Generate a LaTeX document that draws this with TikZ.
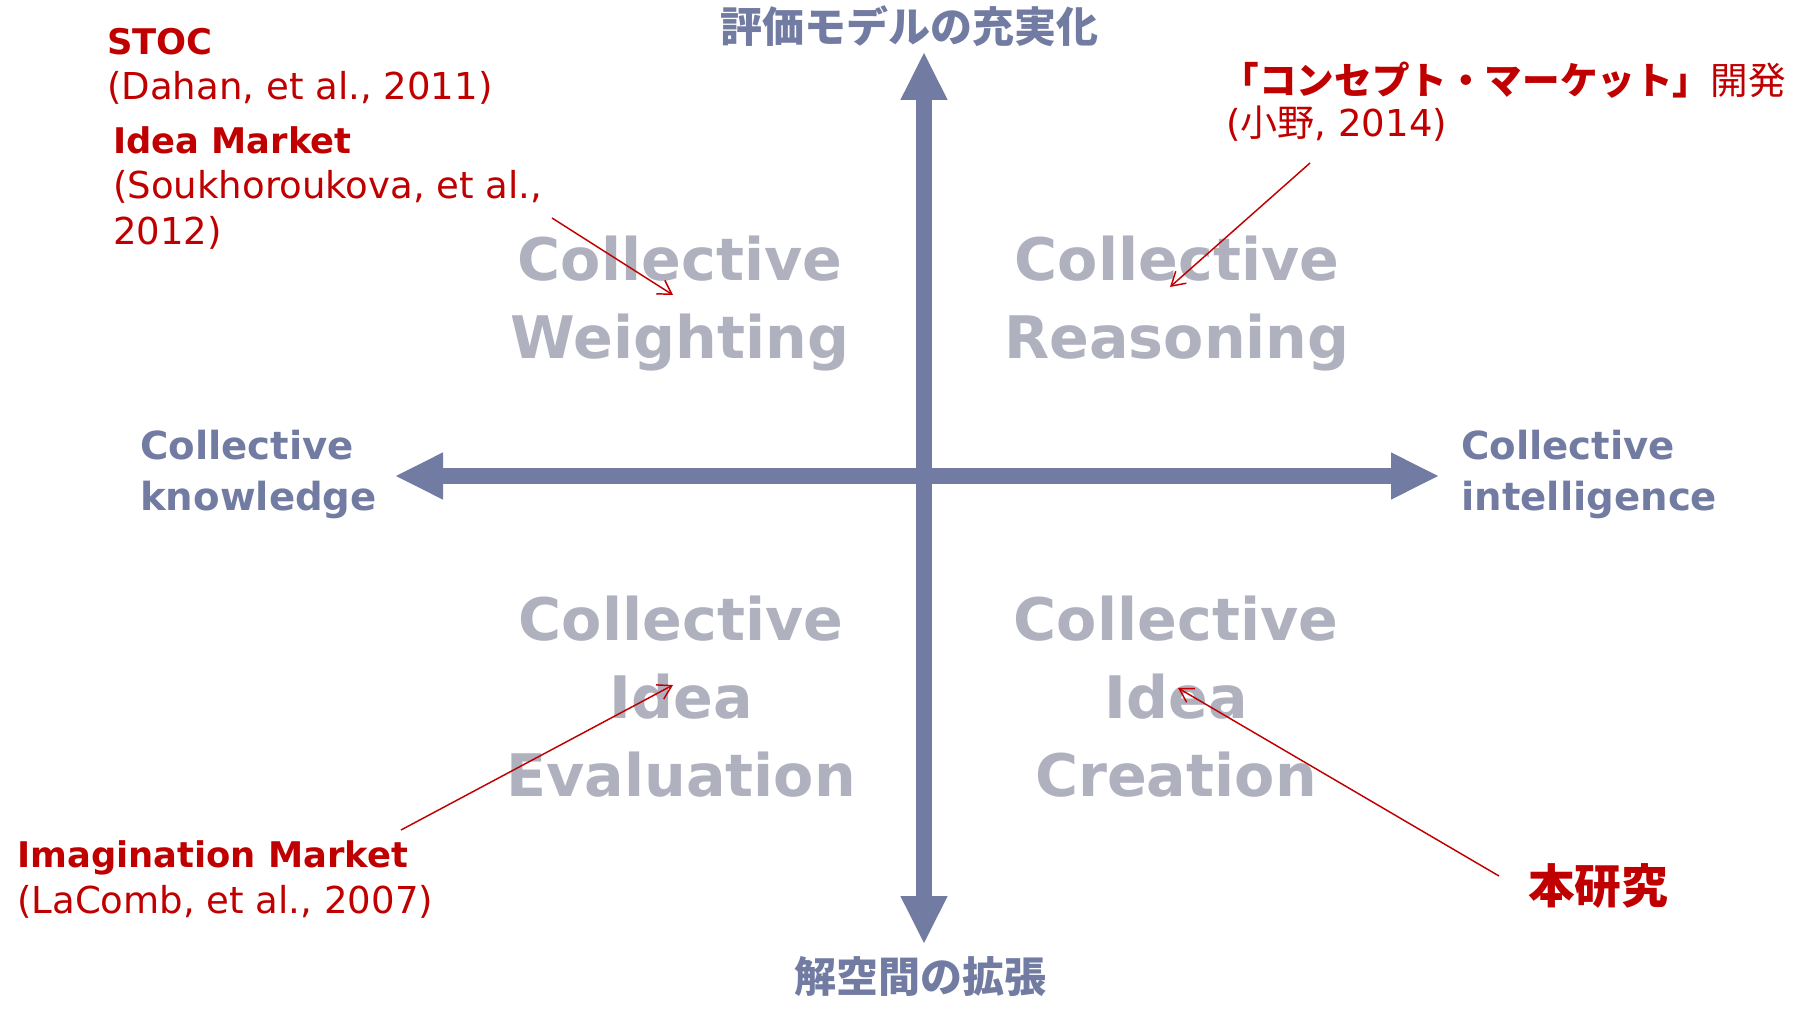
\documentclass[tikz,border=0pt]{standalone}
\usepackage{fontspec}
\setmainfont{DejaVu Sans}
\newfontfamily\jp{Noto Sans CJK JP}
\usetikzlibrary{arrows.meta}
\definecolor{axisblue}{RGB}{114,124,162}
\definecolor{quadgray}{RGB}{176,177,191}
\definecolor{refred}{RGB}{192,0,0}
\newcommand\reftitle[1]{{\bfseries\fontsize{26.5}{34}\selectfont #1}}
\begin{document}
\begin{tikzpicture}[x=0.75pt,y=-0.75pt,
  bigtip/.tip={Triangle[length=35.25pt,width=35.5pt,line width=0pt]},
  axis/.style={axisblue, line width=11.9pt, {bigtip}-{bigtip}},
  quad/.style={quadgray, font=\bfseries\fontsize{44}{58.5}\selectfont, align=center, anchor=base, inner sep=0pt},
  axislabel/.style={axisblue, font=\bfseries\fontsize{29}{37.7}\selectfont, align=left, anchor=base west, inner sep=0pt},
  axistitle/.style={axisblue, font=\jp\bfseries\fontsize{31.5}{36}\selectfont, anchor=base, inner sep=0pt},
  ref/.style={refred, font=\fontsize{27.8}{34}\selectfont, align=left, anchor=base west, inner sep=0pt},
  pointer/.style={refred, line width=1.1pt, -{Straight Barb[length=10pt,width=12pt]}}
]
\useasboundingbox (0,0) rectangle (1797,1009);

% axes
\coordinate (west)  at (396,476);
\coordinate (east)  at (1438,476);
\coordinate (north) at (924,53);
\coordinate (south) at (924,943);
\draw[axis] (west) -- (east);
\draw[axis] (south) -- (north);

% axis titles (multi-line nodes are placed by the baseline of their last line)
\node[axistitle] (top)    at (909,43)  {評価モデルの充実化};
\node[axistitle] (bottom) at (920,992) {解空間の拡張};
\node[axislabel] (know)  at (140,510)  {Collective\\knowledge};
\node[axislabel] (intel) at (1461,510) {Collective\\intelligence};

% quadrant labels
\node[quad] (qw) at (680,358)  {Collective\\Weighting};
\node[quad] (qr) at (1177,358) {Collective\\Reasoning};
\node[quad] (qe) at (681,796)  {Collective\\Idea\\Evaluation};
\node[quad] (qc) at (1176,796) {Collective\\Idea\\Creation};

% references
\node[ref] (stoc) at (107,100) {\reftitle{STOC}\\(Dahan, et al., 2011)};
\node[ref] (idea) at (113,244) {\reftitle{Idea Market}\\(Soukhoroukova, et al.,\\2012)};
\node[ref] (imag) at (17,913)  {\reftitle{Imagination Market}\\(LaComb, et al., 2007)};
\node[refred, anchor=base east, inner sep=0pt, font=\jp\fontsize{28.2}{33}\selectfont]
  (concept) at (1786,95) {{\bfseries「コンセプト・マーケット」}開発};
\node[ref] (ono) at (1226,137) {({\jp 小野}, 2014)};
\node[refred, anchor=base west, inner sep=0pt, font=\jp\bfseries\fontsize{35}{40}\selectfont]
  (this) at (1528,903) {本研究};

% pointers
\coordinate (ideaS) at (552,218);  \coordinate (ideaE) at (673,295);
\coordinate (onoS)  at (1310,163); \coordinate (onoE)  at (1170,287);
\coordinate (imagS) at (401,830);  \coordinate (imagE) at (673,685);
\coordinate (thisS) at (1499,876); \coordinate (thisE) at (1178,688);
\draw[pointer] (ideaS) -- (ideaE);
\draw[pointer] (onoS) -- (onoE);
\draw[pointer] (imagS) -- (imagE);
\draw[pointer] (thisS) -- (thisE);
\end{tikzpicture}
\end{document}
